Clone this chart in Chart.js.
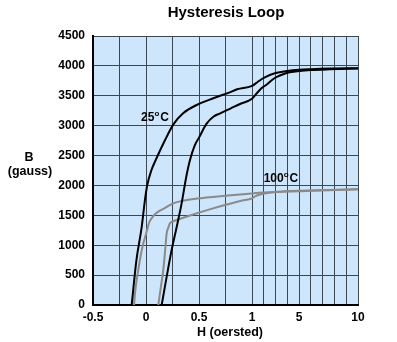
<!DOCTYPE html>
<html>
<head>
<meta charset="utf-8">
<script src="https://cdn.jsdelivr.net/npm/chart.js@4/dist/chart.umd.min.js"></script>
<style>
  html, body { margin: 0; padding: 0; background: #fff; }
  #wrap { width: 397px; height: 342px; }
</style>
</head>
<body>
<div id="wrap"><canvas id="loopChart"></canvas></div>
<script>
// H (oersted) and B (gauss) for each branch of the loop
const h25Down = [10, 7.6, 6, 5, 4, 3, 2, 1.5, 1, 0.86, 0.79, 0.635, 0.478, 0.35, 0.26, 0.18, 0.1, 0.05, 0.012, -0.01, -0.04, -0.09, -0.135];
const b25Down = [3960, 3955, 3945, 3935, 3915, 3880, 3800, 3735, 3665, 3608, 3558, 3458, 3346, 3207, 3025, 2760, 2459, 2250, 2007, 1756, 1310, 753, 0];

const h25Up = [0.148, 0.195, 0.242, 0.29, 0.336, 0.38, 0.415, 0.46, 0.5, 0.57, 0.635, 0.7, 0.8, 0.887, 1, 1.4, 1.8, 2.25, 2.7, 3.1, 3.7, 4.2, 5, 6, 7.6, 10];
const b25Up = [0, 474, 920, 1310, 1701, 2146, 2425, 2670, 2800, 3030, 3150, 3207, 3290, 3362, 3450, 3540, 3625, 3690, 3765, 3815, 3865, 3892, 3915, 3931, 3943, 3955];

const h100Down = [10, 6.2, 3.4, 1.96, 1, 0.745, 0.478, 0.35, 0.258, 0.18, 0.132, 0.08, 0.053, 0.03, 0.006, -0.04, -0.073, -0.104, -0.113];
const b100Down = [1935, 1910, 1893, 1880, 1866, 1828, 1780, 1745, 1701, 1625, 1580, 1510, 1450, 1380, 1227, 920, 585, 196, 0];

const h100Up = [0.116, 0.14, 0.163, 0.18, 0.195, 0.21, 0.226, 0.257, 0.29, 0.43, 0.6, 0.745, 0.9, 1, 1.3, 1.6, 2.2, 3, 5, 10];
const b100Up = [0, 300, 585, 900, 1199, 1290, 1366, 1400, 1422, 1506, 1600, 1673, 1745, 1784, 1822, 1845, 1870, 1890, 1912, 1935];

// axis ticks: fine steps up to 1, then whole numbers to 10
const hTicks = [-0.5, -0.25, 0, 0.25, 0.5, 0.75, 1, 2, 3, 4, 5, 6, 7, 8, 9, 10];
const hLabels = { '-0.5': '-0.5', '0': '0', '0.5': '0.5', '1': '1', '5': '5', '10': '10' };
const bTicks = [0, 500, 1000, 1500, 2000, 2500, 3000, 3500, 4000, 4500];

// the H axis is linear to 1, then compressed so 1..10 takes 1 more unit
function toAxis(h) { return h <= 1 ? h : 1 + (h - 1) / 9; }
function fromAxis(u) { return u <= 1 ? u : 1 + (u - 1) * 9; }

class SplitScale extends Chart.LinearScale {
    determineDataLimits() {
        this.min = toAxis(this.options.min);
        this.max = toAxis(this.options.max);
    }
    buildTicks() {
        this.start = this.min;
        this.end = this.max;
        return hTicks.map(v => ({ value: v }));
    }
    getPixelForValue(value) {
        return super.getPixelForValue(toAxis(value));
    }
    getValueForPixel(pixel) {
        return fromAxis(super.getValueForPixel(pixel));
    }
}
SplitScale.id = 'split';
SplitScale.defaults = Chart.LinearScale.defaults;
Chart.register(SplitScale);

function pts(xs, ys) { return xs.map((x, i) => ({ x: x, y: ys[i] })); }

const FONT = 'Liberation Sans, Arial, Helvetica, sans-serif';

// light blue plot background, drawn under the grid
const plotBg = {
    id: 'plotBg',
    beforeDraw(chart) {
        const a = chart.chartArea, ctx = chart.ctx;
        ctx.save();
        ctx.fillStyle = '#cde6fb';
        ctx.fillRect(a.left, a.top, a.right - a.left, a.bottom - a.top);
        ctx.restore();
    }
};

// title, axis names and curve labels
function tempLabel(ctx, num, cx, cy) {
    const big = 'bold 12px ' + FONT, small = 'bold 8px ' + FONT;
    ctx.font = big;
    const w1 = ctx.measureText(num).width, w3 = ctx.measureText('C').width;
    ctx.font = small;
    const w2 = ctx.measureText('o').width + 1;
    let x = cx - (w1 + w2 + w3) / 2;
    ctx.textAlign = 'left';
    ctx.textBaseline = 'middle';
    ctx.font = big;
    ctx.fillText(num, x, cy);
    x += w1;
    ctx.font = small;
    ctx.fillText('o', x, cy - 4);
    x += w2;
    ctx.font = big;
    ctx.fillText('C', x, cy);
}

const texts = {
    id: 'texts',
    afterDraw(chart) {
        const ctx = chart.ctx, xs = chart.scales.x, ys = chart.scales.y;
        ctx.save();
        ctx.fillStyle = '#000';
        ctx.textAlign = 'center';
        ctx.textBaseline = 'middle';
        ctx.font = 'bold 15px ' + FONT;
        ctx.fillText('Hysteresis Loop', 226, 13);
        ctx.font = 'bold 12.5px ' + FONT;
        ctx.fillText('B', 29, 158);
        ctx.fillText('(gauss)', 30, 172);
        ctx.fillText('H (oersted)', 230, 333);
        tempLabel(ctx, '25', xs.getPixelForValue(0.085), ys.getPixelForValue(3128));
        tempLabel(ctx, '100', xs.getPixelForValue(3.46), ys.getPixelForValue(2108));
        ctx.restore();
    }
};

const ctx = document.getElementById('loopChart').getContext('2d');
new Chart(ctx, {
    type: 'line',
    data: {
        datasets: [
            { data: pts(h25Down, b25Down), borderColor: '#000', borderWidth: 2 },
            { data: pts(h25Up, b25Up), borderColor: '#000', borderWidth: 2 },
            { data: pts(h100Down, b100Down), borderColor: '#8a8a8a', borderWidth: 2 },
            { data: pts(h100Up, b100Up), borderColor: '#8a8a8a', borderWidth: 2 }
        ]
    },
    options: {
        responsive: true,
        maintainAspectRatio: false,
        animation: false,
        layout: { padding: { top: 36, right: 39, bottom: 0, left: 0 } },
        elements: {
            point: { radius: 0 },
            line: { cubicInterpolationMode: 'monotone', fill: false, borderCapStyle: 'round', borderJoinStyle: 'round' }
        },
        scales: {
            x: {
                type: 'split',
                min: -0.5,
                max: 10,
                afterFit(scale) { scale.height = 37; },
                grid: { color: '#3c4752', lineWidth: 1, drawTicks: false },
                border: { color: '#000', width: 2 },
                ticks: {
                    autoSkip: false,
                    maxRotation: 0,
                    padding: 5,
                    color: '#000',
                    font: { family: FONT, size: 12, weight: 'bold' },
                    callback: v => hLabels[String(v)] || ''
                }
            },
            y: {
                type: 'linear',
                min: 0,
                max: 4500,
                afterFit(scale) { scale.width = 93; },
                afterBuildTicks(scale) { scale.ticks = bTicks.map(v => ({ value: v })); },
                grid: { color: '#3c4752', lineWidth: 1, drawTicks: false },
                border: { color: '#000', width: 2 },
                ticks: {
                    padding: 8,
                    color: '#000',
                    font: { family: FONT, size: 12, weight: 'bold' },
                    callback: v => String(v)
                }
            }
        },
        plugins: {
            legend: { display: false },
            tooltip: { enabled: false },
            title: { display: false }
        }
    },
    plugins: [plotBg, texts]
});
</script>
</body>
</html>
